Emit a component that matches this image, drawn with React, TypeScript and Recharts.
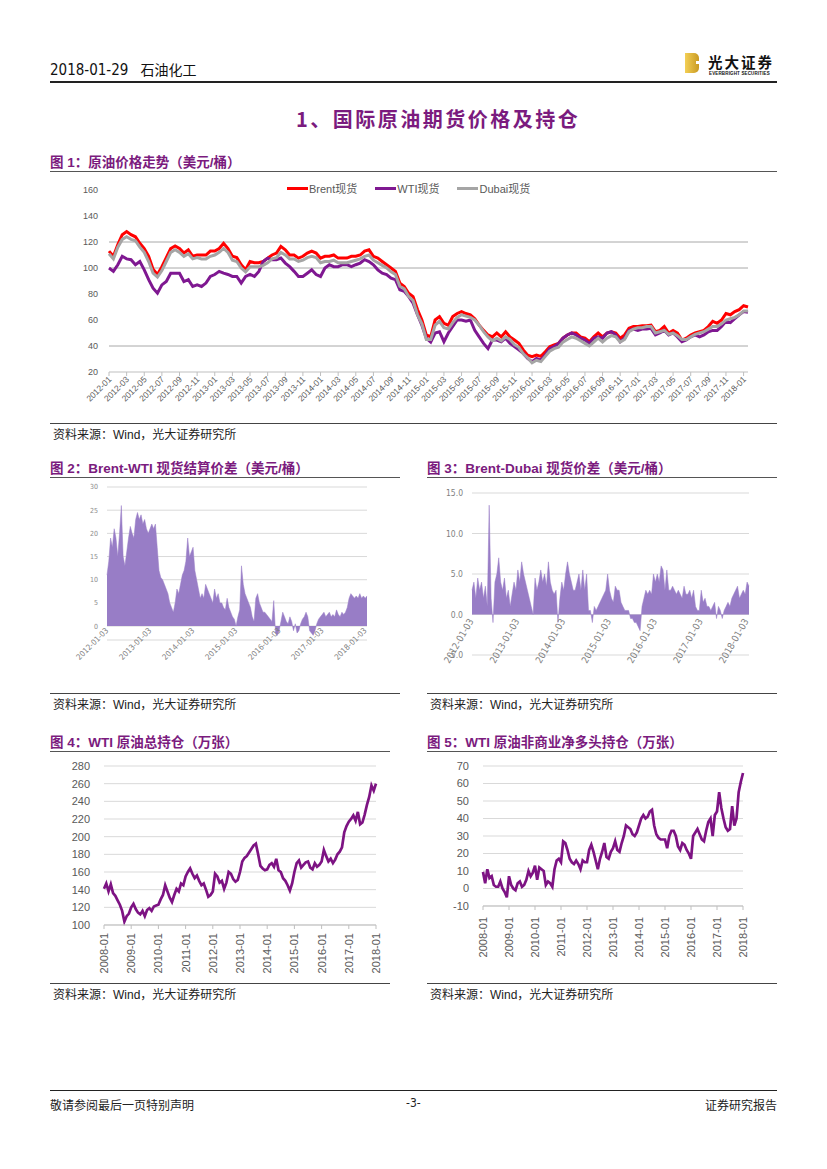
import React from 'react';
import {
  LineChart,
  Line,
  AreaChart,
  Area,
  XAxis,
  YAxis,
  CartesianGrid,
  ReferenceLine,
  Legend,
} from 'recharts';

// semi-monthly readings, 2012-01 .. 2018-01 (two points per month)
const brent = [
  113, 109, 118, 125.6, 128, 125.6, 124, 119, 115, 109, 99, 95, 101, 108, 115, 117, 115, 111.5, 114, 109, 110, 110, 110, 113,
  113, 115, 119, 115, 109, 108, 102.5, 98.6, 105, 104, 104, 105, 107.6, 110, 111.5, 116.6, 114, 110, 110, 107.6, 109, 111.5, 113, 111.5,
  107.6, 109, 109, 110, 107.6, 107.6, 107.6, 109, 109, 110, 113, 114, 109, 107.6, 105, 102.5, 100, 97.4, 88.4, 85.8, 80.6, 78, 68, 60,
  48.5, 47, 60, 62.6, 57.5, 56, 62.6, 65, 66.5, 65, 64, 61, 56, 52, 48.5, 47, 50, 47, 51, 47, 44.6, 42, 37, 33,
  31.8, 33, 32, 35.6, 39.5, 40.8, 42, 46, 48.5, 50, 50, 47, 46, 43.3, 47, 50, 47, 50, 51, 50, 46, 48.5, 53.6, 55,
  55, 55.5, 55.5, 56, 51, 52, 55, 50, 52, 50, 44.6, 46, 48.5, 50, 51, 52, 55, 59, 57.5, 60, 65, 64, 66.5, 68,
  71, 70,
];
const wti = [
  100, 97.4, 102.5, 109, 107, 106.4, 102.5, 105, 98.6, 91, 84.5, 80.6, 87, 89.6, 96, 96, 96, 89.6, 91, 85.8, 87, 85.8, 88.4, 93.5,
  95, 97.4, 96, 95, 93.5, 93.5, 88.4, 93.5, 95, 93.5, 97.4, 105, 107.6, 106.4, 106.4, 107.6, 103.8, 101, 97.4, 93.5, 93.5, 96, 98.6, 95,
  93.5, 100, 102.5, 101, 101, 102.5, 102.5, 101, 102.5, 103.8, 106.4, 105, 102.5, 98.6, 96, 95, 92.2, 91, 83.2, 82, 78, 73, 64, 56,
  46, 43, 50, 51, 43.3, 50, 55, 60, 60, 59, 60, 52, 47, 42, 38, 44.6, 44.6, 43.3, 46, 42, 39.5, 37, 34.3, 30.5,
  28, 30.5, 29.2, 33, 38, 39.5, 42, 46, 48.5, 50, 48.5, 46, 44.6, 42, 46, 47, 46, 50, 51, 48.5, 43.3, 46, 52, 53,
  52, 53, 53, 53.6, 48.5, 50, 52, 48.5, 50, 47, 43.3, 44.6, 47, 48.5, 47, 48.5, 51, 52, 52, 55, 59, 58, 61, 64,
  66.5, 66,
];
const dubai = [
  111, 107, 116, 122, 124, 122, 121, 116, 112, 105, 96, 93, 98, 105, 112, 114, 112, 109, 111, 107, 108, 107, 107, 109,
  110, 112, 115, 112, 106, 105, 100, 97, 101, 101, 101, 102, 104, 107, 108, 112, 110, 107, 107, 105, 106, 108, 109, 108,
  104, 105, 105, 106, 104, 104, 104, 105, 106, 107, 109, 110, 106, 104, 102, 100, 97, 95, 86, 84, 78, 75, 64, 57,
  45, 45, 56, 59, 54, 53, 58, 62, 64, 63, 62, 60, 56, 51, 47, 44, 46, 44, 47, 45, 41, 39, 34, 31,
  27, 29, 28, 32, 36, 38, 39, 43, 45, 47, 46, 44, 42, 40, 43, 46, 43, 46, 48, 47, 43, 45, 51, 53,
  54, 54, 55, 55, 50, 51, 52, 49, 50, 48, 45, 45, 47, 49, 50, 51, 53, 55, 55, 57, 60, 61, 62, 64,
  67, 67,
];
const priceTickLabels = [
  '2012-01', '2012-03', '2012-05', '2012-07', '2012-09', '2012-11',
  '2013-01', '2013-03', '2013-05', '2013-07', '2013-09', '2013-11',
  '2014-01', '2014-03', '2014-05', '2014-07', '2014-09', '2014-11',
  '2015-01', '2015-03', '2015-05', '2015-07', '2015-09', '2015-11',
  '2016-01', '2016-03', '2016-05', '2016-07', '2016-09', '2016-11',
  '2017-01', '2017-03', '2017-05', '2017-07', '2017-09', '2017-11',
  '2018-01',
];

// Brent-WTI spread, semi-monthly 2012-01 .. 2018-01
const brentWti = [
  11, 14, 19, 17, 21, 19, 15, 20, 26, 15, 13, 16, 19, 21.5, 20, 19, 23, 24.5, 23, 24, 22, 23, 21, 20,
  21, 22, 21, 22, 17, 12, 10.5, 10, 9, 8, 7, 5, 4, 3, 5, 8, 7, 9, 11, 12, 14, 19, 15, 16,
  17, 12, 10, 8, 6, 7, 6, 9, 8, 7, 6, 5, 8, 6, 7, 5, 5, 4, 3.5, 6, 4, 3, 2, 1.5,
  0, 2, 3.5, 13, 9, 7, 6, 5, 4, 2, 1, 6, 7, 5, 4, 3, 3, 2.5, 2, 1.5, 1, 5.5, -1.5, -2,
  -1, 1, 3, 2, 1, 0.5, 2, 1, -1, 0.5, -1.5, -1, 0.5, 1.5, 2, 3, 2, -1, -1.5, -2, -1, 0.5, 1.5, 2,
  2.5, 3, 2, 2.5, 3, 2, 2.5, 2, 3.5, 2.5, 2, 3, 2.5, 3, 4, 6, 7, 6.5, 6, 6.5, 6, 7, 6, 6.5,
  6, 6.5,
];
// Brent-Dubai spread, semi-monthly 2012-01 .. 2018-01
const brentDubai = [
  3, 4, 2, 4.5, 3, 4, 2, 3.5, 1, 13.5, 2, -1, 4, 5, 7, 4, 3, 4.5, 2, 3, 1, 2.5, 4, 3,
  5.5, 4, 6.5, 5, 4, 3, 2, 1, 0, 4.5, 3, 4, 5.5, 4, 5, 3.5, 6.5, 4, 3, 2.5, 3, -1, 2, 4,
  3, 5, 6.5, 5, 4, 3, 3, 4, 5, 3, 5.5, 3, 5, 0.5, 0.5, -1, 1, 0.5, 1, 1.5, 2, 2.5, 3, 5,
  3, 2, 1.5, 3.5, 3, 3, 1.5, 1, 0.5, 0.5, 0.5, -0.5, -0.5, -1, -1, -1.5, -2, 1, 2, 3, 2.5, 3, 2.5, 5,
  4, 5, 4, 6, 5.5, 3, 5.5, 3, 3, 3.5, 3, 2.5, 3, 2.5, 2, 3.5, 2.5, 2.5, 3, 2, 3, 1, 0.5, 0.5,
  3, 1.5, 2, 1, 1, 0.5, 1, 1.5, -0.5, 1, 0.5, -0.5, 0.5, 1, 1.5, 1, 2, 2.5, 3, 3.5, 2, 2.5, 3, 2.5,
  4, 3.5,
];
const spreadTickLabels = ['2012-01-03', '2013-01-03', '2014-01-03', '2015-01-03', '2016-01-03', '2017-01-03', '2018-01-03'];

// monthly 2008-01 .. 2018-01
const openInterest = [
  141, 147, 138, 146, 136, 133, 128, 123, 116, 104, 110, 113,
  120, 124, 118, 114, 112, 116, 110, 117, 119, 116, 121, 122,
  123, 129, 134, 145, 138, 131, 126, 134, 141, 138, 147, 145,
  155, 160, 164, 158, 153, 156, 150, 145, 147, 140, 132, 134,
  138, 158, 155, 148, 150, 141, 148, 160, 158, 152, 149, 151,
  160, 172, 176, 178, 182, 186, 190, 192, 180, 167, 164, 162,
  163, 168, 170, 166, 175, 162, 160, 153, 150, 145, 139, 147,
  160, 170, 173, 165, 168, 171, 172, 165, 163, 170, 166, 168,
  172, 185, 178, 172, 175, 170, 174, 180, 183, 188, 205, 212,
  217, 220, 224, 218, 228, 214, 216, 225, 236, 245, 258, 252,
  260,
];
const netLong = [
  9.5, 3, 11, 6, 7, 2, 1, 1, 4, 0, -2, -5,
  7, 2, 0, -1, 3, 4, 1, 2, 5, 10, 7, 9,
  13, 5, 12, 11, 10, 2, 4, 3, 1, 11, 16, 17,
  15, 27, 26, 22, 17, 15, 14, 16, 14, 11, 16, 15,
  15, 22, 25, 21, 16, 11, 17, 21, 26, 18, 17, 21,
  23, 27, 22, 21, 26, 30, 36, 35, 34, 31, 30, 32,
  36, 40, 42, 40, 41, 44, 45, 36, 31, 29, 28, 28,
  28, 23, 30, 33, 33, 30, 24, 22, 26, 25, 22, 20,
  17, 30, 32, 34, 31, 28, 27, 33, 38, 40, 30, 42,
  44, 55, 46, 40, 35, 33, 34, 47, 36, 40, 55, 61,
  66,
];
const yearTickLabels = ['2008-01', '2009-01', '2010-01', '2011-01', '2012-01', '2013-01', '2014-01', '2015-01', '2016-01', '2017-01', '2018-01'];

const priceData = brent.map((v, i) => ({ i, brent: v, wti: wti[i], dubai: dubai[i] }));
const bwData = brentWti.map((v, i) => ({ i, v }));
const bdData = brentDubai.map((v, i) => ({ i, v }));
const oiData = openInterest.map((v, i) => ({ i, v }));
const nlData = netLong.map((v, i) => ({ i, v }));

const PURPLE = '#7B1B7E';
const LINE_PURPLE = '#7D1383';
const AREA = '#987DC6';
const AXIS_TEXT = '#595959';
const LATIN = "'Liberation Sans', Arial, 'Noto Sans CJK SC', sans-serif";
const NARROW = "'Liberation Sans Narrow', 'DejaVu Sans Condensed', 'Liberation Sans', sans-serif";
const CJK = "'Noto Sans CJK SC', sans-serif";

const legendItems = [
  { name: 'Brent现货', color: '#FF0000' },
  { name: 'WTI现货', color: '#7F1891' },
  { name: 'Dubai现货', color: '#A5A5A5' },
];

const PriceLegend = () => (
  <div style={{ display: 'flex', alignItems: 'center', fontSize: 11, color: AXIS_TEXT, fontFamily: LATIN, whiteSpace: 'nowrap' }}>
    {legendItems.map((it) => (
      <div key={it.name} style={{ display: 'flex', alignItems: 'center', marginRight: 18 }}>
        <span style={{ display: 'inline-block', width: 21, height: 3, background: it.color, marginRight: 1 }} />
        <span>{it.name}</span>
      </div>
    ))}
  </div>
);

const priceTick = (p: any) => {
  const x = p.x + 3;
  const y = p.y + 3;
  return (
    <text x={x} y={y} transform={`rotate(-45 ${x} ${y})`} textAnchor="end" fontSize={8.5} fill={AXIS_TEXT} fontFamily={LATIN}>
      {priceTickLabels[Math.round(p.payload.value / 4)]}
    </text>
  );
};

const makeSpreadTick = (angle: number, size: number, shift: number) => (p: any) => {
  const x = p.x + 2;
  const y = p.y + shift;
  return (
    <text x={x} y={y} transform={`rotate(${angle} ${x} ${y})`} textAnchor="end" fontSize={size} fill="#7f7f7f" fontFamily={NARROW}>
      {spreadTickLabels[Math.round(p.payload.value / 24)]}
    </text>
  );
};

const yearTick = (p: any) => (
  <text x={p.x} y={p.y} transform={`rotate(-90 ${p.x} ${p.y})`} textAnchor="end" dominantBaseline="central" fontSize={11} fill={AXIS_TEXT} fontFamily={LATIN}>
    {yearTickLabels[Math.round(p.payload.value / 12)]}
  </text>
);

const abs = (left: number, top: number, extra: React.CSSProperties = {}): React.CSSProperties => ({ position: 'absolute', left, top, ...extra });

const FigTitle = ({ left, top, width, text }: { left: number; top: number; width: number; text: string }) => (
  <>
    <div style={abs(left, top, { fontSize: 13.5, fontWeight: 700, color: PURPLE, fontFamily: LATIN, whiteSpace: 'nowrap' })}>{text}</div>
    <div style={abs(left, top + 20, { width, height: 1, background: '#555' })} />
  </>
);

const Source = ({ left, top, width }: { left: number; top: number; width: number }) => (
  <>
    <div style={abs(left, top, { width, height: 1, background: '#444' })} />
    <div style={abs(left + 3, top + 2, { fontSize: 12, color: '#222', fontFamily: LATIN, whiteSpace: 'nowrap' })}>资料来源：Wind，光大证券研究所</div>
  </>
);

export default function App() {
  return (
    <div style={{ position: 'absolute', left: 0, top: 0, width: 827, height: 1169, background: '#fff', fontFamily: LATIN }}>
      {/* header */}
      <div style={abs(50, 59, { fontSize: 15, color: '#111', fontFamily: NARROW, whiteSpace: 'nowrap' })}>
        2018-01-29
        <span style={{ marginLeft: 12, fontFamily: CJK, fontSize: 14 }}>石油化工</span>
      </div>
      <div style={abs(685, 53, { width: 14, height: 20, background: 'linear-gradient(90deg, #F3CF55, #C99A22)', borderRadius: '0 5px 5px 0' })} />
      <div style={abs(696, 61, { width: 3, height: 3, background: '#fff' })} />
      <div style={abs(708, 51, { fontSize: 14.5, fontWeight: 700, color: '#111', letterSpacing: 2, fontFamily: CJK, whiteSpace: 'nowrap' })}>光大证券</div>
      <div style={abs(709, 71, { fontSize: 4.5, fontWeight: 700, color: '#111', letterSpacing: 0.15, whiteSpace: 'nowrap' })}>EVERBRIGHT SECURITIES</div>
      <div style={abs(50, 81, { width: 727, height: 2, background: '#222' })} />

      <div style={abs(296, 104, { fontSize: 20, fontWeight: 700, color: PURPLE, fontFamily: CJK, whiteSpace: 'nowrap', letterSpacing: 2.5 })}>
        1、国际原油期货价格及持仓
      </div>

      {/* figure 1 */}
      <FigTitle left={50} top={151} width={727} text="图 1：原油价格走势（美元/桶）" />
      <div style={abs(50, 180)}>
        <LineChart width={727} height={245} data={priceData} margin={{ top: 10, right: 29, bottom: 0, left: 0 }}>
          <XAxis
            dataKey="i"
            type="number"
            domain={[0, 145]}
            ticks={priceTickLabels.map((_, k) => k * 4)}
            interval={0}
            height={53}
            stroke="#BFBFBF"
            tickSize={4}
            tickMargin={1}
            tick={priceTick}
          />
          <YAxis
            domain={[20, 160]}
            ticks={[20, 40, 60, 80, 100, 120, 140, 160]}
            interval={0}
            width={59}
            axisLine={false}
            tickLine={false}
            tickSize={0}
            tickMargin={11}
            tick={{ fontSize: 9, fill: AXIS_TEXT, fontFamily: LATIN }}
          />
          {[40, 100, 120].map((v) => (
            <ReferenceLine key={v} y={v} stroke="#A8A8A8" strokeWidth={1} />
          ))}
          <Legend layout="horizontal" verticalAlign="middle" align="center" content={PriceLegend} wrapperStyle={{ top: 0, left: 237, width: 300, height: 16 }} />
          <Line dataKey="brent" type="linear" stroke="#FF0000" strokeWidth={3} dot={false} isAnimationActive={false} />
          <Line dataKey="wti" type="linear" stroke="#7F1891" strokeWidth={3} dot={false} isAnimationActive={false} />
          <Line dataKey="dubai" type="linear" stroke="#A5A5A5" strokeWidth={3} dot={false} isAnimationActive={false} />
        </LineChart>
      </div>
      <Source left={50} top={423} width={727} />

      {/* figure 2 */}
      <FigTitle left={50} top={457} width={350} text="图 2：Brent-WTI 现货结算价差（美元/桶）" />
      <div style={abs(50, 480)}>
        <AreaChart width={350} height={210} data={bwData} margin={{ top: 7, right: 33, bottom: 0, left: 0 }}>
          <CartesianGrid vertical={false} stroke="#D9D9D9" />
          <XAxis
            dataKey="i"
            type="number"
            domain={[0, 145]}
            ticks={spreadTickLabels.map((_, k) => k * 24)}
            interval={0}
            height={50}
            axisLine={false}
            tickLine={false}
            tickSize={0}
            tickMargin={0}
            tick={makeSpreadTick(-45, 8, -9)}
          />
          <YAxis
            domain={[-3, 30]}
            ticks={[0, 5, 10, 15, 20, 25, 30]}
            interval={0}
            width={57}
            axisLine={false}
            tickLine={false}
            tickSize={0}
            tickMargin={9}
            tick={{ fontSize: 7, fill: '#8c8c8c', fontFamily: NARROW }}
          />
          <Area dataKey="v" type="linear" stroke={AREA} strokeWidth={0.5} fill={AREA} fillOpacity={1} isAnimationActive={false} />
        </AreaChart>
      </div>
      <Source left={50} top={693} width={350} />

      {/* figure 3 */}
      <FigTitle left={427} top={457} width={350} text="图 3：Brent-Dubai 现货价差（美元/桶）" />
      <div style={abs(427, 480)}>
        <AreaChart width={350} height={210} data={bdData} margin={{ top: 13, right: 28, bottom: 0, left: 0 }}>
          <CartesianGrid vertical={false} stroke="#D9D9D9" />
          <XAxis
            dataKey="i"
            type="number"
            domain={[0, 145]}
            ticks={spreadTickLabels.map((_, k) => k * 24)}
            interval={0}
            height={35}
            axisLine={false}
            tickLine={false}
            tickSize={0}
            tickMargin={0}
            tick={makeSpreadTick(-60, 9.5, -34)}
          />
          <YAxis
            domain={[-5, 15]}
            ticks={[-5, 0, 5, 10, 15]}
            interval={0}
            width={45}
            axisLine={false}
            tickLine={false}
            tickSize={0}
            tickMargin={9}
            tickFormatter={(v: number) => v.toFixed(1)}
            tick={{ fontSize: 8.5, fill: '#7f7f7f', fontFamily: NARROW }}
          />
          <Area dataKey="v" type="linear" stroke={AREA} strokeWidth={0.5} fill={AREA} fillOpacity={1} isAnimationActive={false} />
        </AreaChart>
      </div>
      <Source left={427} top={693} width={350} />

      {/* figure 4 */}
      <FigTitle left={50} top={731} width={340} text="图 4：WTI 原油总持仓（万张）" />
      <div style={abs(50, 755)}>
        <LineChart width={350} height={225} data={oiData} margin={{ top: 11, right: 24, bottom: 0, left: 0 }}>
          <CartesianGrid vertical={false} stroke="#D9D9D9" />
          <XAxis
            dataKey="i"
            type="number"
            domain={[0, 120]}
            ticks={yearTickLabels.map((_, k) => k * 12)}
            interval={0}
            height={55}
            stroke="#BFBFBF"
            tickSize={4}
            tickMargin={4}
            tick={yearTick}
          />
          <YAxis
            domain={[100, 280]}
            ticks={[100, 120, 140, 160, 180, 200, 220, 240, 260, 280]}
            interval={0}
            width={54}
            axisLine={false}
            tickLine={false}
            tickSize={0}
            tickMargin={14}
            tick={{ fontSize: 11, fill: AXIS_TEXT, fontFamily: LATIN }}
          />
          <Line dataKey="v" type="linear" stroke={LINE_PURPLE} strokeWidth={2.7} dot={false} isAnimationActive={false} />
        </LineChart>
      </div>
      <Source left={50} top={983} width={340} />

      {/* figure 5 */}
      <FigTitle left={427} top={731} width={350} text="图 5：WTI 原油非商业净多头持仓（万张）" />
      <div style={abs(427, 755)}>
        <LineChart width={350} height={225} data={nlData} margin={{ top: 11, right: 34, bottom: 0, left: 0 }}>
          <CartesianGrid vertical={false} stroke="#D9D9D9" />
          <XAxis
            dataKey="i"
            type="number"
            domain={[0, 120]}
            ticks={yearTickLabels.map((_, k) => k * 12)}
            interval={0}
            height={74}
            stroke="#BFBFBF"
            tickSize={4}
            tickMargin={7}
            tick={yearTick}
          />
          <YAxis
            domain={[-10, 70]}
            ticks={[-10, 0, 10, 20, 30, 40, 50, 60, 70]}
            interval={0}
            width={56}
            axisLine={false}
            tickLine={false}
            tickSize={0}
            tickMargin={14}
            tick={{ fontSize: 11, fill: AXIS_TEXT, fontFamily: LATIN }}
          />
          <Line dataKey="v" type="linear" stroke={LINE_PURPLE} strokeWidth={2.7} dot={false} isAnimationActive={false} />
        </LineChart>
      </div>
      <Source left={427} top={983} width={350} />

      {/* footer */}
      <div style={abs(50, 1090, { width: 727, height: 1, background: '#222' })} />
      <div style={abs(50, 1096, { fontSize: 12, color: '#222', fontFamily: CJK, whiteSpace: 'nowrap' })}>敬请参阅最后一页特别声明</div>
      <div style={abs(406, 1096, { fontSize: 12, color: '#222', fontFamily: NARROW })}>-3-</div>
      <div style={abs(705, 1096, { fontSize: 12, color: '#222', fontFamily: CJK, whiteSpace: 'nowrap' })}>证券研究报告</div>
    </div>
  );
}
